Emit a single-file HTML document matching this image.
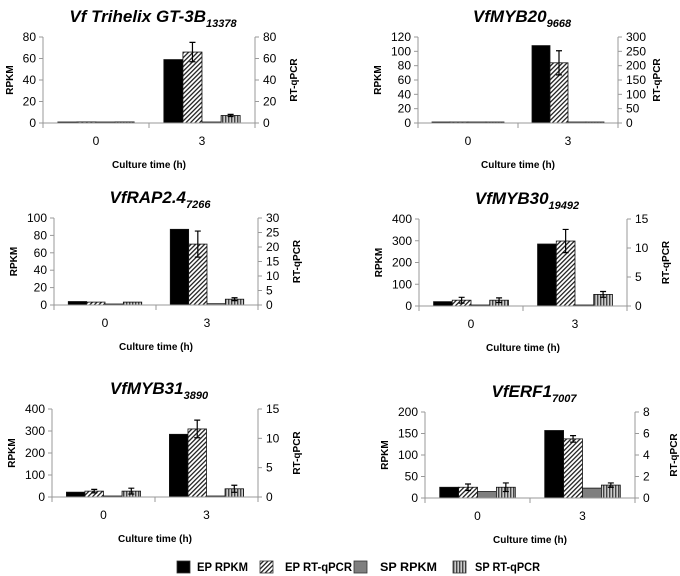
<!DOCTYPE html>
<html><head><meta charset="utf-8"><style>
html,body{margin:0;padding:0;background:#fff;}
svg{display:block;font-family:"Liberation Sans",sans-serif;}
</style></head><body>
<svg id="fig" width="680" height="576" viewBox="0 0 680 576">
<defs>
<pattern id="diag" patternUnits="userSpaceOnUse" width="3.2" height="3.2" patternTransform="rotate(45)">
<rect width="3.2" height="3.2" fill="#fff"/><rect width="1.3" height="3.2" fill="#222"/></pattern>
<pattern id="vert" patternUnits="userSpaceOnUse" width="3" height="4">
<rect width="3" height="4" fill="#ccc"/><rect width="1.4" height="4" fill="#444"/></pattern>
</defs>
</svg>
<script>
// ---- data (one entry per panel, [time0, time3]) ----
const titles = ["Vf Trihelix GT-3B","VfMYB20","VfRAP2.4","VfMYB30","VfMYB31","VfERF1"];
const subs = ["13378","9668","7266","19492","3890","7007"];
const categories = ["0","3"];
const epRpkm = [[0,59],[1,108],[4,87],[20,285],[22,285],[25,157]];
const epRt = [[1,66],[1,210],[1,21],[1,11.2],[1,11.6],[1,5.5]];
const epRtErr = [[0,9],[0,42],[0,4.5],[0.5,2],[0.3,1.5],[0.3,0.3]];
const spRpkm = [[0,0],[0,0],[1,1.5],[0,0],[0,2],[15,23]];
const spRt = [[1,7],[1,1],[1,2],[1,2],[1,1.4],[1,1.2]];
const spRtErr = [[0,1],[0,0],[0,0.5],[0.4,0.5],[0.5,0.6],[0.4,0.2]];
const leftTicks = [[0,20,40,60,80],[0,20,40,60,80,100,120],[0,20,40,60,80,100],[0,100,200,300,400],[0,100,200,300,400],[0,50,100,150,200]];
const rightTicks = [[0,20,40,60,80],[0,50,100,150,200,250,300],[0,5,10,15,20,25,30],[0,5,10,15],[0,5,10,15],[0,2,4,6,8]];
const legendLabels = ["EP RPKM","EP RT-qPCR","SP RPKM","SP RT-qPCR"];

// ---- layout ----
const boxes = [{l:43,r:255,t:37,b:123},{l:418,r:618,t:37,b:123},{l:54,r:258,t:218,b:305},
  {l:419,r:627,t:219,b:306},{l:52,r:258,t:409,b:497},{l:425,r:635,t:412,b:498}];
const svg = document.getElementById('fig');
const NS = 'http://www.w3.org/2000/svg';
function mk(tag, attrs, parent){const e=document.createElementNS(NS,tag);for(const k in attrs)e.setAttribute(k,attrs[k]);(parent||svg).appendChild(e);return e;}

boxes.forEach((B,p)=>{
  const g = mk('g',{});
  
  
  const lMax = leftTicks[p][leftTicks[p].length-1], rMax = rightTicks[p][rightTicks[p].length-1];
  const yL = v => B.b - v/lMax*(B.b-B.t);
  const yR = v => B.b - v/rMax*(B.b-B.t);
  const half = (B.r-B.l)/2, bw = half*0.18;
  const cx = i => B.l + half*(i+0.5);
  const tt = mk('text',{x:(B.l+B.r)/2+4,y:B.t-15,'text-anchor':'middle','font-size':'17','font-weight':'bold','font-style':'italic',fill:'#000'},g);
  
  
  tt.appendChild(document.createTextNode(titles[p]));
  const ts = mk('tspan',{'font-size':'11','dy':'5'},tt); ts.textContent = subs[p];
  const series = [[epRpkm,yL,'#000',null],[epRt,yR,'url(#diag)',epRtErr],[spRpkm,yL,'#7f7f7f',null],[spRt,yR,'url(#vert)',spRtErr]];
  categories.forEach((c,i)=>{
    series.forEach((s,k)=>{
      const v = s[0][p][i], y = s[1](v), x = cx(i) - 2*bw + k*bw;
      const r = mk('rect',{x:x,y:Math.min(y,B.b-1),width:bw,height:Math.max(B.b-y,1),fill:s[2],stroke:'#111','stroke-width':'0.8'},g);
      
      
      if(s[3] && s[3][p][i]>0){
        const e = s[3][p][i], mx = x+bw/2;
        const el = mk('path',{d:`M${mx},${s[1](v+e)}V${s[1](v-e)}M${mx-3},${s[1](v+e)}h6M${mx-3},${s[1](v-e)}h6`,stroke:'#000','stroke-width':'1.2',fill:'none'},g);
        
        
      }
    });
    const cl = mk('text',{x:cx(i),y:B.b+22,'text-anchor':'middle','font-size':'12',fill:'#000'},g);
    
    
    cl.textContent = c;
  });
  const ax = mk('path',{d:`M${B.l},${B.t}V${B.b}H${B.r}V${B.t}`,stroke:'#999','stroke-width':'1',fill:'none'},g);
  
  
  [0,1,2].forEach(j=>mk('path',{d:`M${B.l+half*j},${B.b}v5`,stroke:'#999'},g));
  leftTicks[p].forEach(v=>{
    mk('path',{d:`M${B.l-4},${yL(v)}h4`,stroke:'#999'},g);
    const t = mk('text',{x:B.l-7,y:yL(v)+4,'text-anchor':'end','font-size':'12',fill:'#000'},g);
    
    
    t.textContent = v;
  });
  rightTicks[p].forEach(v=>{
    mk('path',{d:`M${B.r},${yR(v)}h4`,stroke:'#999'},g);
    const t = mk('text',{x:B.r+8,y:yR(v)+4,'text-anchor':'start','font-size':'12',fill:'#000'},g);
    
    
    t.textContent = v;
  });
  const lw = String(lMax).length*7;
  const ly = (B.t+B.b)/2;
  const a1 = mk('text',{x:B.l-lw-16,y:ly,'text-anchor':'middle','font-size':'10','font-weight':'bold',transform:`rotate(-90 ${B.l-lw-16} ${ly})`},g);
  
  
  a1.textContent='RPKM';
  const a2 = mk('text',{x:B.r+42,y:ly,'text-anchor':'middle','font-size':'10','font-weight':'bold',transform:`rotate(-90 ${B.r+42} ${ly})`},g);
  
  
  a2.textContent='RT-qPCR';
  const xt = mk('text',{x:(B.l+B.r)/2,y:B.b+45,'text-anchor':'middle','font-size':'10','font-weight':'bold'},g);
  
  
  xt.textContent='Culture time (h)';
});
const lg = mk('g',{});


const legX = [177,260,354,453], legTx = [197,285,380,475], legW = [51,67,57,65], legFill = ['#000','url(#diag)','#7f7f7f','url(#vert)'];
legendLabels.forEach((lab,k)=>{
  const r = mk('rect',{x:legX[k],y:561,width:13,height:12,fill:legFill[k],stroke:'#333','stroke-width':'0.8'},lg);
  
  
  const t = mk('text',{x:legTx[k],y:571,'font-size':'12','font-weight':'bold',textLength:legW[k],lengthAdjust:'spacingAndGlyphs'},lg);
  
  
  t.textContent = lab;
});
</script>
</body></html>
